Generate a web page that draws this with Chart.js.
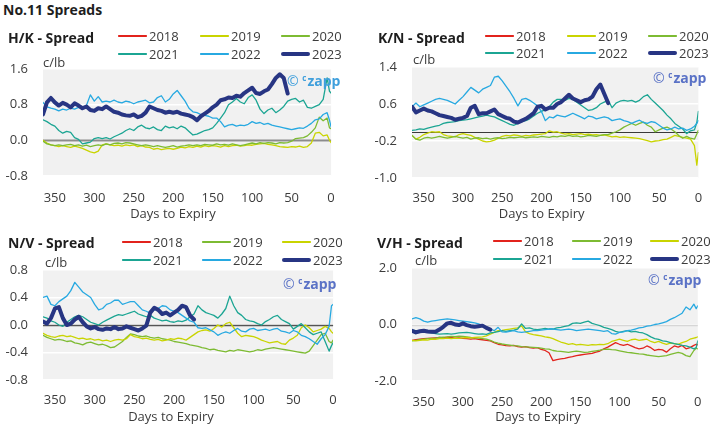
<!DOCTYPE html>
<html><head><meta charset="utf-8">
<script src="https://cdn.jsdelivr.net/npm/chart.js@4.4.0/dist/chart.umd.min.js"></script>
<style>
html,body{margin:0;padding:0;background:#fff}
body{width:715px;height:429px;position:relative;overflow:hidden;font-family:"Open Sans",sans-serif;color:#3c3c3c}
.t{position:absolute;white-space:nowrap;line-height:16px;font-size:13px}
.b{font-weight:700;font-size:14px;color:#1e1e1e}
canvas{position:absolute;z-index:1}
.t,.wm,.ln{z-index:2}
.wm{position:absolute;white-space:nowrap;line-height:16px;font-size:14px;font-weight:700}
.wm .c{font-weight:400}
.wm sup{font-size:8px;vertical-align:5px;margin-right:1px}
.ln{position:absolute}
</style></head><body>
<script>
// ---------- data ----------
const days = [365,360,355,350,345,340,335,330,325,320,315,310,305,300,295,290,285,280,275,270,265,260,255,250,245,240,235,230,225,220,215,210,205,200,195,190,185,180,175,170,165,160,155,150,145,140,135,130,125,120,115,110,105,100,95,90,85,80,75,70,65,60,55,50,45,40,35,30,25,20,15,10,5,2,0];
const xTicks = [350,300,250,200,150,100,50,0];
const legendYears = [2018,2019,2020,2021,2022,2023];

// H/K spread
const hk2019 = [0.00,-0.06,-0.10,-0.12,-0.14,-0.12,-0.14,-0.16,-0.13,-0.15,
-0.18,-0.22,-0.26,-0.28,-0.24,-0.10,-0.08,-0.10,-0.12,-0.11,
-0.13,-0.10,-0.12,-0.10,-0.14,-0.12,-0.15,-0.16,-0.20,-0.18,
-0.21,-0.19,-0.18,-0.20,-0.18,-0.15,-0.17,-0.14,-0.16,-0.13,
-0.15,-0.12,-0.14,-0.12,-0.13,-0.15,-0.12,-0.14,-0.12,-0.11,
-0.13,-0.12,-0.10,-0.11,-0.09,-0.08,-0.07,-0.09,-0.10,-0.12,
-0.14,-0.15,-0.16,-0.14,-0.15,-0.13,-0.16,-0.14,-0.06,0.16,
0.18,0.10,0.12,0.00,-0.05];
const hk2020 = [-0.02,-0.08,-0.10,-0.12,-0.10,-0.12,-0.10,-0.09,-0.12,-0.10,
-0.13,-0.11,-0.14,-0.12,-0.10,-0.12,-0.08,-0.10,-0.07,-0.06,
-0.08,-0.05,-0.06,-0.08,-0.10,-0.12,-0.10,-0.12,-0.14,-0.12,
-0.14,-0.16,-0.14,-0.12,-0.15,-0.13,-0.12,-0.10,-0.12,-0.10,
-0.12,-0.09,-0.10,-0.11,-0.08,-0.10,-0.09,-0.11,-0.08,-0.10,
-0.12,-0.10,-0.08,-0.06,-0.08,-0.05,-0.07,-0.05,-0.06,-0.08,
-0.05,-0.06,-0.05,-0.02,0.04,0.05,0.06,0.10,0.18,0.28,
0.52,0.44,0.50,0.28,0.26];
const hk2021 = [0.46,0.42,0.36,0.32,0.22,0.16,0.20,0.18,0.06,0.02,
-0.08,-0.06,-0.04,0.04,0.06,0.04,0.06,0.03,0.08,0.12,
0.16,0.22,0.26,0.22,0.30,0.34,0.28,0.26,0.30,0.24,
0.22,0.32,0.28,0.30,0.26,0.32,0.28,0.20,0.12,0.14,
0.18,0.22,0.24,0.28,0.38,0.50,0.62,0.80,0.86,0.94,
0.86,0.82,0.96,1.02,0.90,0.70,0.60,0.68,0.72,0.62,
0.68,0.76,0.88,0.92,0.94,0.86,0.90,0.74,0.72,0.76,
0.80,0.92,1.40,1.10,1.06];
const hk2022 = [0.85,0.75,0.72,0.70,0.66,0.70,0.68,0.72,0.70,0.74,
0.72,0.78,1.02,0.88,0.98,0.86,0.88,0.86,0.90,0.86,
0.84,0.88,0.86,0.82,0.86,0.88,0.90,0.84,0.86,0.96,
1.00,0.86,0.92,1.04,1.12,1.00,0.88,0.72,0.64,0.62,
0.58,0.56,0.54,0.50,0.50,0.42,0.30,0.34,0.36,0.32,
0.34,0.33,0.36,0.42,0.38,0.40,0.36,0.38,0.34,0.32,
0.30,0.28,0.26,0.24,0.26,0.28,0.27,0.32,0.38,0.46,
0.48,0.58,0.62,0.45,0.30];
const hk2023 = [0.58,0.85,0.95,0.85,0.78,0.84,0.80,0.74,0.83,0.78,
0.72,0.76,0.68,0.66,0.72,0.70,0.76,0.70,0.64,0.62,
0.58,0.56,0.55,0.58,0.52,0.55,0.62,0.76,0.72,0.68,
0.66,0.62,0.64,0.62,0.64,0.60,0.58,0.56,0.52,0.45,
0.54,0.60,0.66,0.74,0.80,0.90,0.92,0.96,0.95,1.00,
0.98,1.06,1.12,1.18,1.06,1.04,1.10,1.14,1.26,1.40,
1.48,1.40,1.05,null,null,null,null,null,null,null,
null,null,null,null,null];

// K/N spread
const kn2019 = [-0.08,-0.16,-0.12,-0.06,-0.03,0.00,-0.01,0.00,-0.06,-0.09,
-0.10,-0.11,-0.06,-0.04,-0.06,-0.08,-0.12,-0.16,-0.20,-0.22,
-0.21,-0.18,-0.14,-0.10,-0.08,-0.09,-0.07,-0.08,-0.10,-0.08,
-0.09,-0.07,-0.06,-0.05,-0.04,0.02,-0.01,0.00,-0.03,-0.05,
-0.04,-0.06,-0.05,-0.04,-0.06,-0.05,-0.07,-0.06,-0.08,-0.07,
-0.09,-0.11,-0.10,-0.12,-0.11,-0.12,-0.13,-0.14,-0.15,-0.17,
-0.19,-0.22,-0.20,-0.19,-0.17,-0.16,-0.12,-0.08,-0.10,-0.12,
-0.14,-0.16,-0.30,-0.72,-0.45];
const kn2020 = [-0.08,-0.16,-0.18,-0.14,-0.12,-0.14,-0.12,-0.10,-0.12,-0.14,
-0.12,-0.10,-0.12,-0.14,-0.12,-0.16,-0.14,-0.13,-0.15,-0.14,
-0.16,-0.14,-0.13,-0.15,-0.14,-0.12,-0.13,-0.12,-0.11,-0.13,
-0.12,-0.11,-0.12,-0.10,-0.11,-0.12,-0.10,-0.11,-0.09,-0.10,
-0.08,-0.10,-0.09,-0.11,-0.10,-0.08,-0.09,-0.10,-0.08,-0.06,
-0.06,-0.03,0.00,0.04,0.10,0.14,0.18,0.14,0.18,0.21,
0.14,0.10,0.00,0.04,0.08,0.10,0.06,0.00,-0.08,-0.14,
-0.10,-0.14,-0.16,-0.05,0.03];
const kn2021 = [0.03,0.04,0.06,0.05,0.08,0.10,0.12,0.14,0.18,0.20,
0.21,0.22,0.24,0.25,0.26,0.28,0.30,0.32,0.34,0.36,
0.34,0.32,0.28,0.24,0.20,0.16,0.14,0.18,0.22,0.24,
0.28,0.34,0.40,0.44,0.48,0.54,0.64,0.70,0.70,0.68,
0.72,0.70,0.64,0.58,0.52,0.46,0.48,0.52,0.60,0.64,
0.68,0.52,0.62,0.66,0.68,0.66,0.68,0.64,0.68,0.76,
0.80,0.70,0.62,0.54,0.46,0.36,0.28,0.18,0.12,0.06,
-0.04,0.02,0.04,0.20,0.44];
const kn2022 = [0.54,0.62,0.54,0.58,0.62,0.66,0.70,0.72,0.70,0.68,
0.64,0.60,0.68,0.76,0.86,0.96,0.90,0.84,0.92,0.96,
1.00,1.18,1.20,1.10,0.98,0.86,0.72,0.56,0.70,0.72,
0.68,0.62,0.56,0.44,0.24,0.32,0.30,0.36,0.34,0.32,
0.36,0.40,0.36,0.32,0.28,0.34,0.32,0.28,0.30,0.32,
0.30,0.24,0.26,0.28,0.24,0.22,0.18,0.22,0.25,0.20,
0.18,0.22,0.20,0.14,0.08,0.04,0.06,0.10,0.06,0.08,
0.03,0.06,0.12,0.18,0.24];
const kn2023 = [0.54,0.42,0.46,0.50,0.46,0.44,0.40,0.36,0.34,0.32,
0.30,0.26,0.28,0.30,0.34,0.52,0.56,0.38,0.40,0.40,
0.44,0.48,0.38,0.34,0.30,0.28,0.22,0.20,0.24,0.28,
0.34,0.40,0.54,0.56,0.48,0.52,0.52,0.60,0.64,0.72,
0.80,0.72,0.68,0.64,0.68,0.70,0.76,0.92,1.02,0.82,
0.62,null,null,null,null,null,null,null,null,null,
null,null,null,null,null,null,null,null,null,null,
null,null,null,null,null];

// N/V spread
const nv2019 = [-0.15,-0.18,-0.20,-0.22,-0.21,-0.22,-0.24,-0.23,-0.26,-0.27,
-0.29,-0.26,-0.25,-0.27,-0.29,-0.28,-0.30,-0.33,-0.32,-0.28,
-0.24,-0.18,-0.13,-0.14,-0.16,-0.17,-0.16,-0.18,-0.19,-0.18,
-0.20,-0.21,-0.22,-0.24,-0.25,-0.26,-0.27,-0.29,-0.30,-0.31,
-0.33,-0.34,-0.36,-0.35,-0.37,-0.38,-0.39,-0.37,-0.38,-0.36,
-0.37,-0.38,-0.39,-0.38,-0.36,-0.37,-0.35,-0.34,-0.33,-0.34,
-0.35,-0.36,-0.37,-0.38,-0.39,-0.40,-0.41,-0.38,-0.30,-0.22,
-0.14,-0.12,-0.24,-0.26,-0.22];
const nv2020 = [-0.12,-0.15,-0.17,-0.18,-0.16,-0.15,-0.17,-0.16,-0.18,-0.20,
-0.19,-0.21,-0.20,-0.22,-0.21,-0.23,-0.22,-0.24,-0.22,-0.21,
-0.22,-0.20,-0.14,-0.17,-0.18,-0.20,-0.19,-0.21,-0.22,-0.21,
-0.23,-0.22,-0.20,-0.21,-0.19,-0.20,-0.22,-0.18,-0.14,-0.10,
-0.08,-0.07,-0.09,-0.05,0.00,-0.03,0.02,0.04,-0.04,-0.12,
-0.17,-0.15,-0.16,-0.17,-0.19,-0.22,-0.24,-0.26,-0.25,-0.24,
-0.27,-0.28,-0.22,-0.19,-0.15,-0.04,0.00,-0.04,-0.10,-0.08,
-0.06,-0.02,-0.05,-0.10,-0.12];
const nv2021 = [0.12,0.10,0.06,0.04,0.00,-0.02,0.04,0.08,0.12,0.14,
0.12,0.08,0.04,0.02,0.00,0.04,0.07,0.10,0.13,0.15,
0.14,0.16,0.18,0.20,0.16,0.14,0.12,0.14,0.10,0.08,
0.06,0.07,0.05,0.04,0.06,0.05,0.07,0.12,0.16,0.28,
0.22,0.18,0.16,0.14,0.10,0.16,0.24,0.42,0.28,0.18,
0.14,0.08,0.06,0.05,0.02,0.00,0.05,0.08,0.12,0.14,
0.08,0.05,0.02,-0.06,-0.02,0.02,-0.04,-0.10,-0.14,-0.12,
-0.10,-0.24,-0.38,-0.30,-0.26];
const nv2022 = [0.40,0.42,0.30,0.28,0.34,0.38,0.42,0.50,0.62,0.55,
0.48,0.44,0.40,0.30,0.22,0.24,0.30,0.32,0.36,0.36,
0.30,0.32,0.34,0.34,0.28,0.22,0.20,0.17,0.22,0.24,
0.28,0.27,0.22,0.20,0.18,0.14,0.10,0.06,0.04,-0.04,
-0.05,-0.04,-0.07,-0.10,-0.15,-0.12,-0.10,-0.12,-0.08,-0.05,
-0.09,-0.10,-0.06,-0.05,-0.08,-0.07,-0.06,-0.08,-0.06,-0.05,
-0.09,-0.10,-0.12,-0.08,-0.10,-0.15,-0.17,-0.20,-0.24,-0.28,
-0.20,-0.14,-0.02,0.28,0.30];
const nv2023 = [0.05,0.02,0.10,0.24,0.26,0.10,0.00,0.02,0.08,0.12,
0.04,-0.02,-0.05,-0.03,-0.06,-0.07,-0.05,-0.06,-0.03,-0.06,
-0.05,-0.02,-0.04,-0.06,-0.08,-0.05,-0.01,0.18,0.25,0.22,
0.16,0.18,0.14,0.18,0.22,0.28,0.26,0.14,0.08,null,
null,null,null,null,null,null,null,null,null,null,
null,null,null,null,null,null,null,null,null,null,
null,null,null,null,null,null,null,null,null,null,
null,null,null,null,null];

// V/H spread
const vh2018 = [-0.56,-0.54,-0.52,-0.50,-0.49,-0.48,-0.47,-0.46,-0.47,-0.45,
-0.46,-0.48,-0.47,-0.49,-0.50,-0.52,-0.50,-0.53,-0.54,-0.56,
-0.58,-0.64,-0.70,-0.72,-0.75,-0.76,-0.74,-0.78,-0.80,-0.78,
-0.82,-0.84,-0.82,-0.88,-0.92,-1.00,-1.28,-1.24,-1.22,-1.20,
-1.16,-1.14,-1.10,-1.08,-1.06,-1.04,-1.02,-0.98,-0.94,-0.86,
-0.80,-0.72,-0.64,-0.70,-0.74,-0.70,-0.76,-0.82,-0.86,-0.84,
-0.76,-0.82,-0.92,-0.88,-0.90,-0.98,-0.86,-0.76,-0.80,-0.74,
-0.86,-0.82,-0.74,-0.70,-0.72];
const vh2019 = [-0.58,-0.56,-0.54,-0.52,-0.50,-0.49,-0.48,-0.46,-0.45,-0.44,
-0.42,-0.43,-0.41,-0.42,-0.44,-0.46,-0.47,-0.48,-0.50,-0.52,
-0.56,-0.62,-0.66,-0.69,-0.71,-0.73,-0.75,-0.76,-0.78,-0.79,
-0.80,-0.81,-0.82,-0.84,-0.86,-0.87,-0.92,-0.94,-0.95,-0.97,
-0.99,-0.96,-0.94,-0.96,-0.99,-0.98,-0.95,-0.93,-0.91,-0.88,
-0.87,-0.89,-0.90,-0.93,-0.96,-0.99,-1.00,-1.02,-1.04,-1.05,
-1.08,-1.10,-1.12,-1.14,-1.12,-1.10,-1.06,-1.02,-0.99,-1.02,
-1.10,-1.14,-0.92,-0.84,-0.86];
const vh2020 = [-0.56,-0.58,-0.56,-0.54,-0.55,-0.52,-0.53,-0.50,-0.50,-0.48,
-0.50,-0.48,-0.49,-0.47,-0.46,-0.47,-0.46,-0.45,-0.44,-0.40,
-0.34,-0.28,-0.22,-0.21,-0.18,-0.16,-0.14,-0.12,-0.05,-0.26,
-0.32,-0.36,-0.38,-0.40,-0.44,-0.46,-0.50,-0.56,-0.62,-0.66,
-0.70,-0.68,-0.72,-0.70,-0.72,-0.74,-0.71,-0.72,-0.70,-0.71,
-0.68,-0.60,-0.56,-0.52,-0.56,-0.60,-0.54,-0.52,-0.56,-0.54,
-0.52,-0.60,-0.64,-0.60,-0.66,-0.70,-0.66,-0.68,-0.70,-0.64,
-0.60,-0.52,-0.48,-0.46,-0.44];
const vh2021 = [-0.20,-0.22,-0.24,-0.26,-0.28,-0.30,-0.32,-0.34,-0.33,-0.32,
-0.34,-0.32,-0.30,-0.29,-0.28,-0.30,-0.32,-0.34,-0.33,-0.35,
-0.30,-0.28,-0.25,-0.22,-0.24,-0.22,-0.20,-0.16,0.02,-0.14,
-0.12,-0.16,-0.18,-0.16,-0.14,-0.16,-0.16,-0.12,-0.10,-0.07,
-0.04,0.04,0.06,0.04,0.08,0.12,0.04,0.00,-0.04,-0.10,
-0.14,-0.18,-0.24,-0.28,-0.24,-0.22,-0.26,-0.24,-0.28,-0.30,
-0.36,-0.44,-0.50,-0.53,-0.58,-0.60,-0.64,-0.68,-0.70,-0.74,
-0.76,-0.80,-0.86,-0.82,-0.58];
const vh2022 = [0.20,0.24,0.20,0.12,0.08,0.12,0.14,0.16,0.18,0.20,
0.18,0.16,0.14,0.12,0.10,0.08,0.06,0.02,-0.04,-0.10,
-0.16,-0.22,-0.10,-0.26,-0.27,-0.24,-0.22,-0.26,-0.28,-0.26,
-0.24,-0.22,-0.22,-0.20,-0.18,-0.16,-0.16,-0.18,-0.20,-0.18,
-0.16,-0.18,-0.22,-0.20,-0.18,-0.16,-0.18,-0.20,-0.22,-0.24,
-0.22,-0.32,-0.34,-0.28,-0.26,-0.22,-0.20,-0.16,-0.12,-0.10,
-0.06,-0.04,0.00,0.02,0.06,0.10,0.18,0.24,0.32,0.40,
0.62,0.52,0.72,0.56,0.66];
const vh2023 = [-0.22,-0.28,-0.24,-0.22,-0.25,-0.26,-0.26,-0.18,-0.08,0.04,
0.06,0.00,-0.02,0.04,-0.02,-0.06,-0.08,-0.06,-0.04,-0.12,
-0.18,null,null,null,null,null,null,null,null,null,
null,null,null,null,null,null,null,null,null,null,
null,null,null,null,null,null,null,null,null,null,
null,null,null,null,null,null,null,null,null,null,
null,null,null,null,null,null,null,null,null,null,
null,null,null,null,null];

// ---------- styles ----------
const RED='#e2231c', YEL='#c9d400', GRN='#7dbb32', TEAL='#1ba593', BLUE='#27a9e1', NAVY='#273583';
const colsA = {2018:RED,2019:YEL,2020:GRN,2021:TEAL,2022:BLUE,2023:NAVY};
const colsB = {2018:RED,2019:GRN,2020:YEL,2021:TEAL,2022:BLUE,2023:NAVY};

const panels = [
 {title:'H/K - Spread', tx:8, ty:30, plot:[43,69,339,176], rp:10, yr:[-0.8,1.6,0.8], lblY:198,
  unit:[43,53.6], dte:[173,204.5], wm:[287,78,'#3f9fdc'], zero:['#8c8c8c',2],
  lx:[118,200,281], ly:[36,54], cmap:colsA,
  series:[[2019,hk2019],[2020,hk2020],[2021,hk2021],[2022,hk2022],[2023,hk2023]]},
 {title:'K/N - Spread', tx:378, ty:30, plot:[412,67,707,178], rp:8, yr:[-1.0,1.4,0.8], lblY:198.7,
  unit:[413,51], dte:[541.7,204.5], wm:[653,75,'#5a72c6'], zero:['#3a3a3a',1.2],
  lx:[485,567,648], ly:[36,53], cmap:colsA,
  series:[[2019,kn2019],[2020,kn2020],[2021,kn2021],[2022,kn2022],[2023,kn2023]]},
 {title:'N/V - Spread', tx:8, ty:235, plot:[43,270,339,380], rp:10, yr:[-0.8,0.8,0.4], lblY:400,
  unit:[45,253.6], dte:[171,408], wm:[283,281.7,'#5a72c6'], zero:['#555555',1.5],
  lx:[122,202,282], ly:[242,260], cmap:colsB,
  series:[[2019,nv2019],[2020,nv2020],[2021,nv2021],[2022,nv2022],[2023,nv2023]]},
 {title:'V/H - Spread', tx:377, ty:235, plot:[412,268,709,381], rp:6, yr:[-2.0,2.0,2.0], lblY:402.3,
  unit:[415,252], dte:[538,408], wm:[648,277,'#5a72c6'], zero:['#d6d6d6',1.5],
  lx:[493,572,650], ly:[241,259], cmap:colsB,
  series:[[2018,vh2018],[2019,vh2019],[2020,vh2020],[2021,vh2021],[2022,vh2022],[2023,vh2023]]}
];

// ---------- helpers ----------
function el(tag, cls, css, html){ const e=document.createElement(tag); if(cls) e.className=cls; Object.assign(e.style, css||{}); if(html!==undefined) e.innerHTML=html; document.body.appendChild(e); return e; }
function toPts(arr){ if(arr.length!==days.length) throw new Error('length mismatch '+arr.length); const out=[]; days.forEach((d,i)=>{ if(arr[i]!==null) out.push({x:d,y:arr[i]}); }); return out; }
const fmt = v => (Math.abs(v)<1e-9?0:v).toFixed(1);

const bgPlugin = { id:'bgArea', beforeDraw(chart){ const {ctx, chartArea:a}=chart; ctx.save(); ctx.fillStyle='#f1f1f1'; ctx.fillRect(a.left,a.top,a.right-a.left,a.bottom-a.top); ctx.restore(); } };
const zeroPlugin = { id:'zeroLine', beforeDatasetsDraw(chart, args, opts){ const {ctx, chartArea:a, scales:{y}}=chart; const py=Math.round(y.getPixelForValue(0))+0.5; ctx.save(); ctx.strokeStyle=opts.color; ctx.lineWidth=opts.width; ctx.beginPath(); ctx.moveTo(a.left,py); ctx.lineTo(a.right,py); ctx.stroke(); ctx.restore(); } };

Chart.defaults.font.family = '"Open Sans", sans-serif';
Chart.defaults.font.size = 13;
Chart.defaults.color = '#3c3c3c';

el('div','t b',{left:'3px',top:'2px'},'No.11 Spreads');

const TOPPAD = 24;
panels.forEach(p=>{
  const [L,T,R,B]=p.plot;
  el('div','t b',{left:p.tx+'px',top:p.ty+'px'},p.title);
  el('div','t',{left:p.unit[0]+'px',top:p.unit[1]+'px'},'c/lb');
  el('div','t',{left:(p.dte[0]-80)+'px',top:p.dte[1]+'px',width:'160px',textAlign:'center'},'Days to Expiry');
  el('div','wm',{left:p.wm[0]+'px',top:(p.wm[1]-8.5)+'px',color:p.wm[2]},'<span class="c">©</span> <sup>c</sup>zapp');
  legendYears.forEach((yr,i)=>{
    const x=p.lx[i%3], y=p.ly[Math.floor(i/3)], w=yr===2023?4:1.5;
    el('div','ln',{left:x+'px',top:(y-w/2)+'px',width:'29px',height:w+'px',background:p.cmap[yr],borderRadius:(w/2)+'px'});
    el('div','t',{left:(x+31)+'px',top:(y-8.4)+'px'},String(yr));
  });
  const cl=L-43, ct=T-TOPPAD, cw=R-cl+p.rp, ch=B-ct+40;
  const cv=el('canvas',null,{left:cl+'px',top:ct+'px',width:cw+'px',height:ch+'px'});
  cv.width=cw; cv.height=ch;
  new Chart(cv,{
    type:'line',
    data:{datasets:p.series.map(([yr,arr])=>({label:String(yr),data:toPts(arr),borderColor:p.cmap[yr],
      borderWidth:yr===2023?4:1.3,pointRadius:0,tension:0,order:2023-yr,borderJoinStyle:'round',borderCapStyle:'round'}))},
    options:{responsive:false,animation:false,devicePixelRatio:1,events:[],
      layout:{padding:{left:0,top:TOPPAD,right:p.rp,bottom:0}},
      plugins:{legend:{display:false},tooltip:{enabled:false},title:{display:false},zeroLine:{color:p.zero[0],width:p.zero[1]}},
      scales:{
        x:{type:'linear',min:0,max:365,reverse:true,grid:{display:false,drawTicks:false},border:{display:false},
           afterBuildTicks:s=>{s.ticks=xTicks.map(v=>({value:v}));},
           ticks:{includeBounds:false,autoSkip:false,maxRotation:0,padding:p.lblY-B-7.8,callback:v=>String(v)},
           afterFit:s=>{s.height=40;}},
        y:{type:'linear',min:p.yr[0],max:p.yr[1],grid:{color:'#ffffff',lineWidth:1.5,drawTicks:false},border:{display:false},
           ticks:{stepSize:p.yr[2],padding:15,callback:v=>fmt(v)},
           afterFit:s=>{s.width=43;}}
      }},
    plugins:[bgPlugin,zeroPlugin]
  });
});
</script>
</body></html>
